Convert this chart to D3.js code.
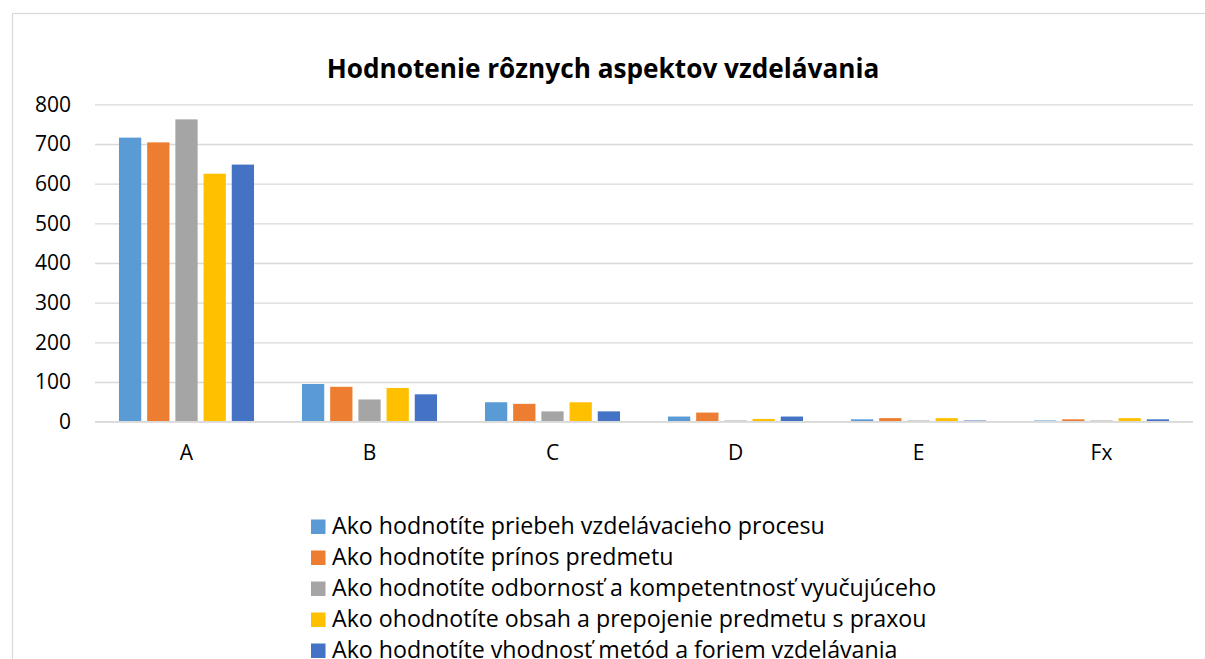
<!DOCTYPE html>
<html>
<head>
<meta charset="utf-8">
<script src="https://cdn.jsdelivr.net/npm/d3@7"></script>
<style>
  html, body { margin: 0; padding: 0; background: #fff; overflow: hidden; }
  svg text { font-family: "Open Sans", Lato, sans-serif; }
</style>
</head>
<body>
<svg id="chart" width="1205" height="659"></svg>
<script>
// Hodnotenie rôznych aspektov vzdelávania - grouped bar chart

const categories = ["A", "B", "C", "D", "E", "Fx"];
const seriesNames = [
  "Ako hodnotíte priebeh vzdelávacieho procesu",
  "Ako hodnotíte prínos predmetu",
  "Ako hodnotíte odbornosť a kompetentnosť vyučujúceho",
  "Ako ohodnotíte obsah a prepojenie predmetu s praxou",
  "Ako hodnotíte vhodnosť metód a foriem vzdelávania"
];
const seriesColors = ["#5B9BD5", "#ED7D31", "#A5A5A5", "#FFC000", "#4472C4"];

// one array per series, in category order
const priebeh   = [716, 95, 49, 13, 6, 3];
const prinos    = [704, 88, 45, 23, 9, 6];
const odbornost = [762, 56, 26, 3, 3, 3];
const obsah     = [625, 85, 49, 7, 9, 9];
const metody    = [648, 69, 26, 13, 3, 6];
const seriesValues = [priebeh, prinos, odbornost, obsah, metody];

const yTicks = [0, 100, 200, 300, 400, 500, 600, 700, 800];
const title = "Hodnotenie rôznych aspektov vzdelávania";

const svg = d3.select("#chart");
const W = 1205, H = 659;
const plot = { left: 95, right: 1193, top: 104.3, bottom: 421.7 };

svg.append("rect").attr("width", W).attr("height", H).attr("fill", "#fff");

// chart area border (runs off the right and bottom edges)
svg.append("rect")
  .attr("x", 12.5).attr("y", 13.5)
  .attr("width", 1300).attr("height", 800)
  .attr("fill", "#fff")
  .attr("stroke", "#d9d9d9")
  .attr("stroke-width", 1.2);

// shrink/grow a text's font so it spans the width seen in the original
function fitWidth(sel, target) {
  sel.each(function () {
    const w = this.getComputedTextLength();
    const fs = parseFloat(d3.select(this).attr("font-size"));
    d3.select(this).attr("font-size", (fs * target / w).toFixed(2));
  });
}

// --- Scales ---
const x = d3.scaleBand()
  .domain(categories)
  .range([plot.left, plot.right])
  .paddingInner(0.262)
  .paddingOuter(0.131);

const x1 = d3.scaleBand()
  .domain(d3.range(seriesNames.length))
  .range([0, x.bandwidth()])
  .paddingInner(0.21);

const y = d3.scaleLinear()
  .domain([0, 800])
  .range([plot.bottom, plot.top]);

// --- Gridlines ---
svg.append("g")
  .attr("transform", `translate(${plot.left},0)`)
  .call(d3.axisLeft(y).tickValues(yTicks).tickSize(-(plot.right - plot.left)).tickFormat(""))
  .call(g => g.select(".domain").remove())
  .call(g => g.selectAll("line").attr("stroke", "#d9d9d9").attr("stroke-width", 1.3));

// y tick labels
svg.append("g")
  .attr("transform", `translate(${plot.left},0)`)
  .call(d3.axisLeft(y).tickValues(yTicks).tickSize(0).tickPadding(24))
  .call(g => g.select(".domain").remove())
  .call(g => g.selectAll("text")
    .attr("font-size", 21)
    .attr("fill", "#000")
    .style("font-family", "'Open Sans', sans-serif"));

// --- Bars ---
const groups = svg.append("g").selectAll("g")
  .data(categories)
  .join("g")
  .attr("transform", d => `translate(${x(d)},0)`);

groups.selectAll("rect")
  .data((c, ci) => seriesValues.map((vals, si) => ({ si, v: vals[ci] })))
  .join("rect")
  .attr("x", d => x1(d.si))
  .attr("width", x1.bandwidth())
  .attr("y", d => y(d.v))
  .attr("height", d => y(0) - y(d.v))
  .attr("fill", d => seriesColors[d.si]);

// baseline on top of the bars
svg.append("line")
  .attr("x1", plot.left).attr("x2", plot.right)
  .attr("y1", y(0)).attr("y2", y(0))
  .attr("stroke", "#d9d9d9")
  .attr("stroke-width", 1.5);

// category labels
svg.append("g")
  .attr("transform", `translate(0,${plot.bottom})`)
  .call(d3.axisBottom(x).tickSize(0).tickPadding(23))
  .call(g => g.select(".domain").remove())
  .call(g => g.selectAll("text")
    .attr("font-size", 21)
    .attr("fill", "#000")
    .style("font-family", "'Open Sans', sans-serif"));

// --- Title ---
svg.append("text")
  .attr("x", 603)
  .attr("y", 78)
  .attr("text-anchor", "middle")
  .attr("font-size", 22)
  .attr("font-weight", "bold")
  .attr("fill", "#000")
  .text(title)
  .call(fitWidth, 553);

// --- Legend ---
const legend = svg.append("g").attr("transform", "translate(311,519.5)");
const rows = legend.selectAll("g")
  .data(seriesNames)
  .join("g")
  .attr("transform", (d, i) => `translate(0,${i * 31})`);

rows.append("rect")
  .attr("width", 14.5).attr("height", 14.5)
  .attr("fill", (d, i) => seriesColors[i]);

const legendText = rows.append("text")
  .attr("x", 21)
  .attr("y", 14.5)
  .attr("font-size", 20)
  .attr("fill", "#000")
  .text(d => d);

// size legend font from the first entry so all rows share one size
const first = legendText.filter((d, i) => i === 0);
fitWidth(first, 493);
legendText.attr("font-size", first.attr("font-size"));
</script>
</body>
</html>
